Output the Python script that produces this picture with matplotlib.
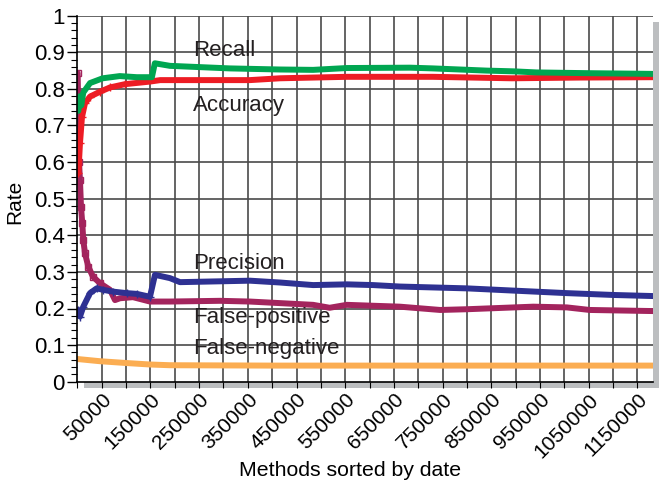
import matplotlib
matplotlib.use("Agg")
import matplotlib.pyplot as plt
from matplotlib.patches import Rectangle
from matplotlib.ticker import MultipleLocator, FixedLocator
import numpy as np

plt.rcParams['font.family'] = ['Liberation Sans', 'DejaVu Sans']

# ---- data ----
recall_x = [2000, 5000, 8000, 12000, 26000, 52000, 87000, 122000, 153000, 159000, 190000,
            313000, 416000, 484000, 553000, 683000, 730000, 840000, 895000, 943000, 1046000, 1182000]
recall_y = [0.74, 0.78, 0.755, 0.79, 0.816, 0.829, 0.835, 0.832, 0.832, 0.870, 0.863,
            0.856, 0.853, 0.852, 0.857, 0.858, 0.856, 0.850, 0.848, 0.845, 0.843, 0.841]

acc_x = [2000, 5300, 9400, 15600, 26000, 46000, 67000, 98000, 149000, 170000,
         313000, 354000, 416000, 553000, 683000, 730000, 892000, 1032000, 1182000]
acc_y = [0.57, 0.652, 0.723, 0.761, 0.779, 0.792, 0.804, 0.813, 0.820, 0.824,
         0.824, 0.824, 0.829, 0.833, 0.833, 0.833, 0.829, 0.831, 0.832]

prec_x = [1000, 5300, 12100, 25900, 39600, 52600, 73700, 101200, 121800, 149000, 159300, 190000,
          210700, 354400, 416000, 484000, 553500, 607000, 662000, 800000, 894000, 1005000, 1100000, 1182000]
prec_y = [0.196, 0.178, 0.205, 0.242, 0.255, 0.251, 0.246, 0.242, 0.240, 0.232, 0.292, 0.283,
          0.272, 0.276, 0.271, 0.264, 0.266, 0.264, 0.260, 0.255, 0.249, 0.242, 0.237, 0.234]

fp_x = [500, 1200, 2000, 3300, 5300, 7400, 10000, 12100, 15600, 22400, 32000, 46400, 67000,
        77200, 87500, 114000, 149000, 190000, 293000, 354000, 484000, 518000, 553000, 662000,
        745000, 800000, 936000, 1005000, 1052000, 1182000]
fp_y = [0.843, 0.79, 0.70, 0.60, 0.55, 0.478, 0.433, 0.387, 0.351, 0.314, 0.287, 0.269, 0.251,
        0.223, 0.228, 0.231, 0.219, 0.219, 0.221, 0.219, 0.210, 0.202, 0.210, 0.205,
        0.196, 0.198, 0.205, 0.203, 0.196, 0.193]

fn_x = [0, 46000, 101000, 149000, 190000, 400000, 800000, 1182000]
fn_y = [0.062, 0.056, 0.051, 0.047, 0.045, 0.044, 0.044, 0.044]

xtick_labels = [50000, 150000, 250000, 350000, 450000, 550000, 650000,
                750000, 850000, 950000, 1050000, 1150000]

series_labels = ["Recall", "Accuracy", "Precision", "False-positive", "False-negative"]

# ---- figure ----
W, H = 667, 487
fig = plt.figure(figsize=(W / 100, H / 100), dpi=100)
left, right, top, bottom = 77.4, 653, 15.7, 381.7
ax = fig.add_axes([left / W, 1 - bottom / H, (right - left) / W, (bottom - top) / H])
ax.set_facecolor('white')
ax.set_zorder(2)

# drop shadow
sh = 6.3
fig.patches.append(Rectangle(((left + sh) / W, 1 - (bottom + sh) / H),
                             (right - left) / W, (bottom - top) / H,
                             transform=fig.transFigure, facecolor='#bcbec0',
                             edgecolor='none', zorder=1))

ax.set_xlim(0, 1182000)
ax.set_ylim(0, 1)

lw = 4.3
c_green = '#00a651'
c_red = '#ed1c24'
c_blue = '#2e3192'
c_purple = '#a3245d'
c_orange = '#fbad52'

ax.plot(fn_x, fn_y, color=c_orange, lw=lw, solid_capstyle='round', zorder=3)
ax.plot(fp_x, fp_y, color=c_purple, lw=lw, solid_capstyle='round', zorder=4,
        marker='s', markersize=4, mfc='none', mec=c_purple, markevery=list(range(0, 12)))
ax.plot(prec_x, prec_y, color=c_blue, lw=lw, solid_capstyle='round', zorder=5,
        marker='+', markersize=6, mec=c_blue, markevery=list(range(0, 10)))
ax.plot(acc_x, acc_y, color=c_red, lw=lw, solid_capstyle='round', zorder=6,
        marker='+', markersize=6, mec=c_red, markevery=list(range(0, 8)))
ax.plot(recall_x, recall_y, color=c_green, lw=lw, solid_capstyle='round', zorder=7)

# ticks
ax.xaxis.set_major_locator(FixedLocator(xtick_labels))
ax.set_xticklabels([str(v) for v in xtick_labels])
ax.xaxis.set_minor_locator(MultipleLocator(50000))
ax.set_yticks(np.arange(0, 1.0001, 0.1))
ax.set_yticklabels(['0', '0.1', '0.2', '0.3', '0.4', '0.5', '0.6', '0.7', '0.8', '0.9', '1'])
ax.yaxis.set_minor_locator(MultipleLocator(0.02))

# grid
for gx in np.arange(50000, 1182000, 50000):
    ax.axvline(gx, color='#4a4a4a', lw=1.2, zorder=1.5)
for gy in np.arange(0.1, 1.0001, 0.1):
    ax.axhline(gy, color='#4a4a4a', lw=1.2, zorder=1.5)

for s in ['top', 'right']:
    ax.spines[s].set_visible(False)
for s in ['left', 'bottom']:
    ax.spines[s].set_color('black')
    ax.spines[s].set_linewidth(1.2)
    ax.spines[s].set_zorder(8)

ax.tick_params(axis='y', which='major', length=7, width=1, pad=2, labelsize=16, colors='black')
ax.tick_params(axis='y', which='minor', length=4, width=0.8)
ax.tick_params(axis='x', which='both', length=4, width=0.8, pad=2, labelsize=15)
for lab in ax.get_xticklabels():
    lab.set_rotation(45)
    lab.set_ha('right')
    lab.set_va('top')
    lab.set_rotation_mode('anchor')

ax.set_ylabel('Rate', fontsize=15)
ax.yaxis.set_label_coords(-(left - 24) / (right - left), 0.49)
fig.text(350 / W, 1 - 470 / H, 'Methods sorted by date', fontsize=15.3, ha='center', va='center')

# series labels
lab_x = 236700
lab_y = [0.890, 0.740, 0.307, 0.160, 0.075]
for t, yv in zip(series_labels, lab_y):
    ax.text(lab_x, yv, t, fontsize=16, color='#231f20', ha='left', va='baseline', zorder=9)

fig.savefig('out.png', dpi=100)
